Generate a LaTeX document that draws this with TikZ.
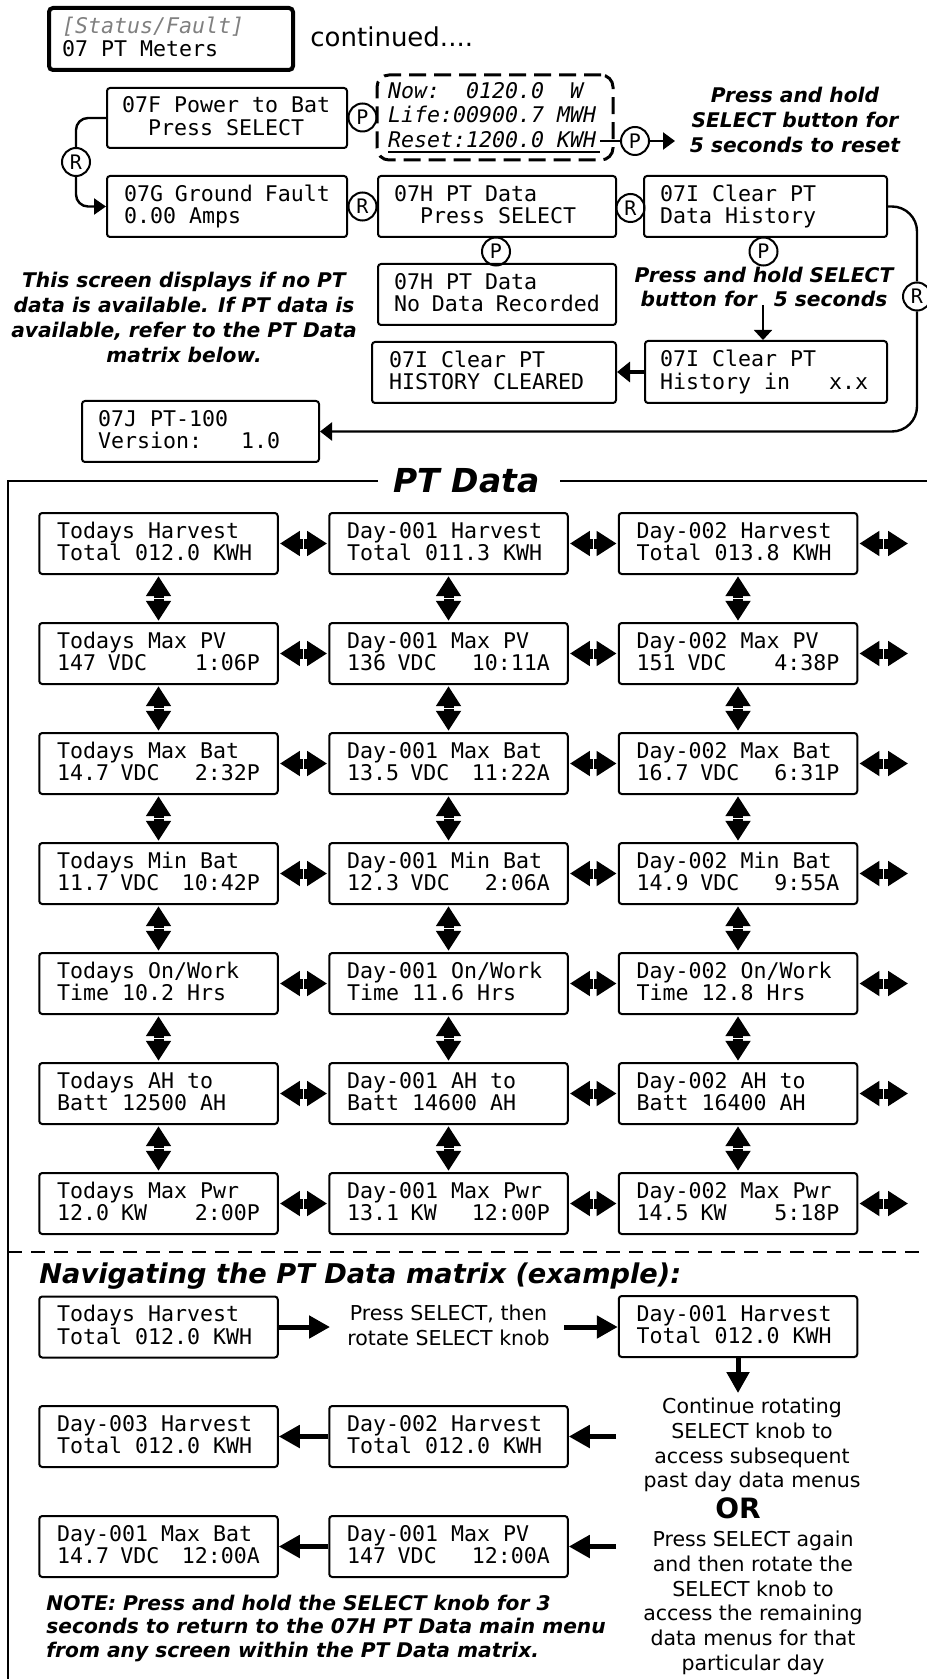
\documentclass[tikz,border=0pt]{standalone}
\usepackage{fontspec}
\usetikzlibrary{arrows.meta,calc}
\newfontfamily\mono{DejaVu Sans Mono}
\newfontfamily\dsans{DejaVu Sans}
\newdimen\PX \PX=0.5pt
\newdimen\lcdw \lcdw=203\PX
\newcommand\lcdstrut{\vrule height16\PX depth4.5\PX width0pt\relax}
\newcommand\lcd[2]{\vbox{\baselineskip=22.5\PX\lineskip=0pt\lineskiplimit=-1000pt%
\hbox to\lcdw{\lcdstrut#1\hfil}\hbox to\lcdw{\lcdstrut#2\hfil}}}
\newcommand\lcdthree[3]{\vbox{\baselineskip=24.5\PX\lineskip=0pt\lineskiplimit=-1000pt%
\hbox to\lcdw{\lcdstrut#1\hfil}\hbox to\lcdw{\lcdstrut#2\hfil}\hbox to\lcdw{\lcdstrut#3\hfil}}}
\newcommand\ulrule[1]{\rlap{\vrule height-3.5\PX depth5.5\PX width212\PX}#1}
\newcommand\monof{\mono\fontsize{10.8pt}{11.25pt}\selectfont\frenchspacing}
\newcommand\boldnote{\dsans\bfseries\itshape\fontsize{10.1pt}{12.5pt}\selectfont}
\newcommand\plainsans{\dsans\fontsize{10.25pt}{12.4pt}\selectfont}
\begin{document}
\begin{tikzpicture}[x=0.5pt,y=-0.5pt,
  lcdbox/.style={draw,line width=1pt,rounded corners=1.5pt,minimum width=119.25pt,minimum height=30.5pt,inner sep=0pt,font=\monof},
  tw/.style={execute at begin node={\lcdw=#1\PX}},
  circ/.style={draw,circle,line width=1pt,minimum size=14pt,inner sep=0pt,fill=white,font=\mono\fontsize{10pt}{10pt}\selectfont},
  note/.style={font=\boldnote,align=center,inner sep=0pt},
  plaintxt/.style={font=\plainsans,align=center,inner sep=0pt},
  wire/.style={line width=1.2pt},
  dbl/.style={line width=5pt,{Triangle[length=10pt,width=12pt]}-{Triangle[length=10pt,width=12pt]},shorten <=0.6pt,shorten >=0.6pt},
  gapv/.style={white,line width=0.6pt},
  nav/.style={line width=2.5pt,-{Triangle[length=10.5pt,width=11pt]}},
]
\useasboundingbox (0,0) rectangle (926,1679);

% ---------- top part ----------
\node[lcdbox,minimum width=122pt,minimum height=31pt,line width=2pt,rounded corners=2pt,tw=218] (st) at (171,39) {\lcd{{\color{black!50}\itshape[Status/Fault]}}{07 PT Meters}};
\node[font=\dsans\fontsize{13pt}{15pt}\selectfont,anchor=base west,inner sep=0pt] (cont) at (310,47) {continued....};

\node[lcdbox,minimum width=120pt,minimum height=30pt,tw=210] (f) at (227,118) {\lcd{07F Power to Bat}{\ \ Press SELECT}};
\node[circ] (p1) at (362.5,117.5) {P};
\node[lcdbox,dash pattern=on 8.5pt off 4pt,line width=1.5pt,rounded corners=6pt,minimum width=118pt,minimum height=42.5pt,tw=214,font=\monof\itshape] (meter) at (495,117.5) {\lcdthree{Now:~~0120.0~~W}{Life:00900.7 MWH}{\ulrule{Reset:1200.0 KWH}}};
\node[circ] (p2) at (635,141) {P};
\coordinate (rsend) at (600,141);
\coordinate (holdend) at (675,141);
\draw[wire] (rsend) -- (p2.west);
\draw[wire,-{Triangle[length=6pt,width=8.5pt]}] (p2.east) -- (holdend);
\node[note,anchor=north] (hold) at (795,82) {\rule{0pt}{10pt}Press and hold\\SELECT button for\\5 seconds to reset};

\node[circ] (rl) at (76,162) {R};
\node[lcdbox,minimum width=120pt,tw=206] (g) at (227,206.5) {\lcd{07G Ground Fault}{0.00 Amps}};
\draw[wire,rounded corners=6pt] (f.west) -| (rl.north);
\draw[wire,rounded corners=6pt,-{Triangle[length=6pt,width=8pt]}] (rl.south) |- (g.west);

\node[circ] (r2) at (362.5,206.5) {R};
\node[lcdbox,minimum width=119pt,tw=206] (h) at (497,206.5) {\lcd{07H PT Data}{\ \ Press SELECT}};
\node[circ] (r3) at (630.5,208) {R};
\node[lcdbox,minimum width=121.5pt,tw=211] (i) at (765.5,206.5) {\lcd{07I Clear PT}{Data History}};
\node[circ] (p3) at (496,251.5) {P};
\node[lcdbox,minimum width=119pt,tw=206] (nd) at (497,294.5) {\lcd{07H PT Data}{No Data Recorded}};
\node[circ] (p4) at (763.5,251.5) {P};
\node[note,anchor=north,font=\boldnote\fontsize{10.1pt}{12pt}\selectfont] (hold2) at (764,262) {\rule{0pt}{10pt}Press and hold SELECT\\button for\hspace{5pt} 5 seconds};
\coordinate (hs) at (763,305);
\node[lcdbox,minimum width=121pt,minimum height=31pt,tw=212] (hist) at (766,372) {\lcd{07I Clear PT}{History in~~~x.x}};
\draw[line width=0.9pt,-{Triangle[length=5pt,width=9pt]}] (hs) -- (hs |- hist.north);
\node[lcdbox,minimum width=122pt,tw=210] (clr) at (494,372.5) {\lcd{07I Clear PT}{HISTORY CLEARED}};
\draw[line width=1.65pt,-{Triangle[length=6.5pt,width=10pt]}] (hist.west) -- (hist.west -| clr.east);

\node[note,anchor=north] (scr) at (184,267) {\rule{0pt}{10pt}This screen displays if no PT\\data is available. If PT data is\\available, refer to the PT Data\\matrix below.};
\node[circ] (rr) at (917,296.5) {R};
\node[lcdbox,minimum width=118.5pt,tw=205] (j) at (200.5,431.5) {\lcd{07J PT-100}{Version:~~~1.0}};
\draw[wire,rounded corners=12.5pt] (i.east) -| (rr.north);
\draw[wire,rounded corners=12.5pt,-{Triangle[length=6pt,width=9pt]}] (rr.south) |- (j.east);

% ---------- PT Data matrix ----------
\node[font=\dsans\bfseries\itshape\fontsize{16.5pt}{18pt}\selectfont,anchor=base,inner sep=0pt] (ptd) at (466.5,492) {PT Data};
\draw[line width=1.2pt] (378,481) -- (8,481) -- (8,1690);
\draw[line width=1.2pt] (560,481) -- (930,481);

\node[lcdbox] (m11) at (158.5,543.5) {\lcd{Todays Harvest}{Total 012.0 KWH}};
\node[lcdbox] (m12) at (448.5,543.5) {\lcd{Day-001 Harvest}{Total 011.3 KWH}};
\node[lcdbox] (m13) at (738,543.5) {\lcd{Day-002 Harvest}{Total 013.8 KWH}};
\node[lcdbox] (m21) at (158.5,653.5) {\lcd{Todays Max PV}{147 VDC~~~~1:06P}};
\node[lcdbox] (m22) at (448.5,653.5) {\lcd{Day-001 Max PV}{136 VDC~~~10:11A}};
\node[lcdbox] (m23) at (738,653.5) {\lcd{Day-002 Max PV}{151 VDC~~~~4:38P}};
\node[lcdbox] (m31) at (158.5,763.5) {\lcd{Todays Max Bat}{14.7 VDC~~~2:32P}};
\node[lcdbox] (m32) at (448.5,763.5) {\lcd{Day-001 Max Bat}{13.5 VDC~~11:22A}};
\node[lcdbox] (m33) at (738,763.5) {\lcd{Day-002 Max Bat}{16.7 VDC~~~6:31P}};
\node[lcdbox] (m41) at (158.5,873.5) {\lcd{Todays Min Bat}{11.7 VDC~~10:42P}};
\node[lcdbox] (m42) at (448.5,873.5) {\lcd{Day-001 Min Bat}{12.3 VDC~~~2:06A}};
\node[lcdbox] (m43) at (738,873.5) {\lcd{Day-002 Min Bat}{14.9 VDC~~~9:55A}};
\node[lcdbox] (m51) at (158.5,983.5) {\lcd{Todays On/Work}{Time 10.2 Hrs}};
\node[lcdbox] (m52) at (448.5,983.5) {\lcd{Day-001 On/Work}{Time 11.6 Hrs}};
\node[lcdbox] (m53) at (738,983.5) {\lcd{Day-002 On/Work}{Time 12.8 Hrs}};
\node[lcdbox] (m61) at (158.5,1093.5) {\lcd{Todays AH to}{Batt 12500 AH}};
\node[lcdbox] (m62) at (448.5,1093.5) {\lcd{Day-001 AH to}{Batt 14600 AH}};
\node[lcdbox] (m63) at (738,1093.5) {\lcd{Day-002 AH to}{Batt 16400 AH}};
\node[lcdbox] (m71) at (158.5,1203.5) {\lcd{Todays Max Pwr}{12.0 KW~~~~2:00P}};
\node[lcdbox] (m72) at (448.5,1203.5) {\lcd{Day-001 Max Pwr}{13.1 KW~~~12:00P}};
\node[lcdbox] (m73) at (738,1203.5) {\lcd{Day-002 Max Pwr}{14.5 KW~~~~5:18P}};

\foreach \r in {1,...,7}{
  \coordinate (mx\r) at ($(m\r3.east)+(51,0)$);
  \draw[dbl] (m\r1.east) -- (m\r2.west);
  \draw[dbl] (m\r2.east) -- (m\r3.west);
  \draw[dbl] (m\r3.east) -- (mx\r);
  \draw[gapv] ($(m\r1.east)!0.5!(m\r2.west)+(0,-6)$) -- ++(0,12);
  \draw[gapv] ($(m\r2.east)!0.5!(m\r3.west)+(0,-6)$) -- ++(0,12);
  \draw[gapv] ($(m\r3.east)!0.5!(mx\r)+(0,-6)$) -- ++(0,12);
}
\foreach \r [count=\n from 2] in {1,...,6}{
  \foreach \c in {1,2,3}{
    \draw[dbl] (m\r\c.south) -- (m\n\c.north);
    \draw[gapv] ($(m\r\c.south)!0.5!(m\n\c.north)+(-6,0)$) -- ++(12,0);
  }
}

% ---------- navigation example ----------
\draw[line width=1.1pt,dash pattern=on 7pt off 4.5pt] (8,1252) -- (926,1252);
\node[font=\dsans\bfseries\itshape\fontsize{13.6pt}{15pt}\selectfont,anchor=base west,inner sep=0pt] (navt) at (39,1283) {Navigating the PT Data matrix (example):};
\node[lcdbox] (nt) at (158.5,1327) {\lcd{Todays Harvest}{Total 012.0 KWH}};
\node[plaintxt,anchor=north,font=\plainsans\fontsize{10.25pt}{12.5pt}\selectfont] (press) at (448.5,1300) {\rule{0pt}{10pt}Press SELECT, then\\rotate SELECT knob};
\node[lcdbox] (nd1) at (738,1326.5) {\lcd{Day-001 Harvest}{Total 012.0 KWH}};
\coordinate (a1) at (330,1327);
\coordinate (a2) at (564,1327);
\draw[nav] (nt.east) -- (a1);
\draw[nav] (a2) -- (a2 -| nd1.west);
\coordinate (a3) at (738,1393);
\draw[nav] (nd1.south) -- (a3);
\node[plaintxt,anchor=north] (cont2) at (752,1393) {\rule{0pt}{10pt}Continue rotating\\SELECT knob to\\access subsequent\\past day data menus};
\node[font=\dsans\bfseries\fontsize{14pt}{16pt}\selectfont,anchor=base,inner sep=0pt] (or) at (738,1518) {OR};
\node[plaintxt,anchor=north] (again) at (753,1526) {\rule{0pt}{10pt}Press SELECT again\\and then rotate the\\SELECT knob to\\access the remaining\\data menus for that\\particular day};
\node[lcdbox] (n2) at (448.5,1436.5) {\lcd{Day-002 Harvest}{Total 012.0 KWH}};
\node[lcdbox] (n3) at (158.5,1436.5) {\lcd{Day-003 Harvest}{Total 012.0 KWH}};
\coordinate (a4) at (616,1436.5);
\draw[nav] (a4) -- (n2.east);
\draw[nav] (n2.west) -- (n3.east);
\node[lcdbox] (npv) at (448.5,1546.5) {\lcd{Day-001 Max PV}{147 VDC~~~12:00A}};
\node[lcdbox] (nbat) at (158.5,1546.5) {\lcd{Day-001 Max Bat}{14.7 VDC~~12:00A}};
\coordinate (a5) at (616,1546.5);
\draw[nav] (a5) -- (npv.east);
\draw[nav] (npv.west) -- (nbat.east);
\node[note,align=left,anchor=north west,font=\boldnote\fontsize{10.1pt}{11.75pt}\selectfont] (notet) at (46,1590) {\rule{0pt}{10pt}NOTE: Press and hold the SELECT knob for 3\\seconds to return to the 07H PT Data main menu\\from any screen within the PT Data matrix.};
\end{tikzpicture}
\end{document}
